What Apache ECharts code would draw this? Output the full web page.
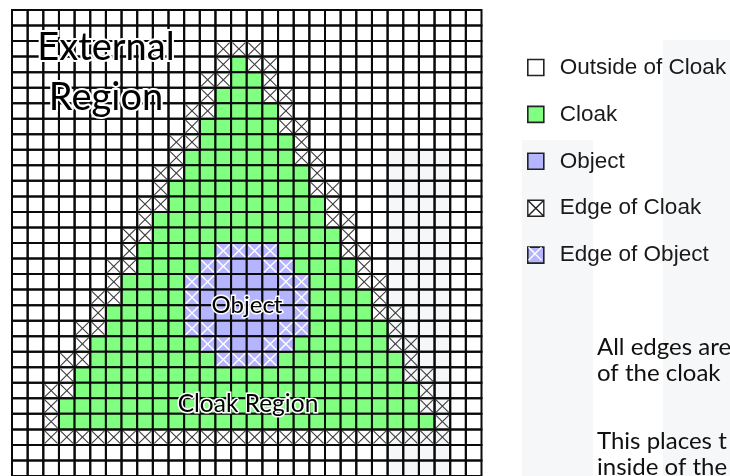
<!DOCTYPE html>
<html>
<head>
<meta charset="utf-8">
<script src="https://cdn.jsdelivr.net/npm/echarts@6/dist/echarts.min.js"></script>
<style>html,body{margin:0;padding:0;background:#fff}#chart{width:730px;height:476px}</style>
</head>
<body>
<div id="chart"></div>
<script>
// Column / row categories of the 30 x 30 cell grid
const colCategories = ['0','1','2','3','4','5','6','7','8','9','10','11','12','13','14','15','16','17','18','19','20','21','22','23','24','25','26','27','28','29'];
const rowCategories = ['0','1','2','3','4','5','6','7','8','9','10','11','12','13','14','15','16','17','18','19','20','21','22','23','24','25','26','27','28','29'];

// Cell type per row, run-length encoded (code + count).
// . outside, G cloak, B object, X edge of cloak, Y edge of object
const gridRows = [
  '.30',
  '.30',
  '.13 X3 .14',
  '.13 X1 G1 X2 .13',
  '.12 X2 G2 X1 .13',
  '.12 X1 G3 X2 .12',
  '.11 X2 G4 X1 .12',
  '.11 X1 G5 X2 .11',
  '.10 X2 G6 X1 .11',
  '.10 X1 G7 X2 .10',
  '.9 X2 G8 X1 .10',
  '.9 X1 G9 X2 .9',
  '.8 X2 G10 X1 .9',
  '.8 X1 G11 X2 .8',
  '.7 X2 G12 X1 .8',
  '.7 X1 G5 Y4 G4 X2 .7',
  '.6 X2 G4 Y2 B2 Y2 G4 X1 .7',
  '.6 X1 G4 Y2 B4 Y2 G3 X2 .6',
  '.5 X2 G4 Y1 B6 Y1 G4 X1 .6',
  '.5 X1 G5 Y1 B6 Y1 G4 X2 .5',
  '.4 X2 G5 Y2 B4 Y2 G5 X1 .5',
  '.4 X1 G7 Y2 B2 Y2 G6 X2 .4',
  '.3 X2 G8 Y4 G8 X1 .4',
  '.3 X1 G21 X2 .3',
  '.2 X2 G22 X1 .3',
  '.2 X1 G23 X2 .2',
  '.2 X1 G24 X1 .2',
  '.2 X26 .2',
  '.30',
  '.30'
];

const typeNames = ['Outside of Cloak', 'Cloak', 'Object', 'Edge of Cloak', 'Edge of Object'];
const typeCodes = ['.', 'G', 'B', 'X', 'Y'];

const textLabels = ['External', 'Region', 'Object', 'Cloak Region'];
const noteLines = ['All edges are', 'of the cloak', 'This places t', 'inside of the'];

// ---- build cell lists ----
const cellsByCode = {};
typeCodes.forEach(c => cellsByCode[c] = []);
gridRows.forEach((rowStr, r) => {
  let col = 0;
  rowStr.split(' ').forEach(tok => {
    const code = tok[0];
    const n = parseInt(tok.slice(1), 10);
    for (let k = 0; k < n; k++) { cellsByCode[code].push([col, r]); col++; }
  });
});

const fills = { '.': 'rgba(255,255,255,0)', 'G': '#80ff80', 'B': '#b4b4ff', 'X': 'rgba(255,255,255,0)', 'Y': '#b4b4ff' };
const crossColors = { 'X': '#3c3c3c', 'Y': '#ffffff' };

function makeRender(code) {
  return function (params, api) {
    const c = api.coord([api.value(0), api.value(1)]);
    const s = api.size([1, 1]);
    const x = c[0] - s[0] / 2, y = c[1] - s[1] / 2, w = s[0], h = s[1];
    const children = [{
      type: 'rect', shape: { x: x, y: y, width: w, height: h },
      style: { fill: fills[code], stroke: '#0a0a0a', lineWidth: 2 }
    }];
    if (crossColors[code]) {
      const lw = code === 'Y' ? 1.4 : 1.1;
      children.push({ type: 'line', shape: { x1: x + 1.5, y1: y + 1.5, x2: x + w - 1.5, y2: y + h - 1.5 }, style: { stroke: crossColors[code], lineWidth: lw } });
      children.push({ type: 'line', shape: { x1: x + w - 1.5, y1: y + 1.5, x2: x + 1.5, y2: y + h - 1.5 }, style: { stroke: crossColors[code], lineWidth: lw } });
    }
    return { type: 'group', children: children };
  };
}

const series = typeCodes.map((code, i) => ({
  type: 'custom',
  name: typeNames[i],
  renderItem: makeRender(code),
  data: cellsByCode[code],
  itemStyle: { color: code === 'G' ? '#80ff80' : (code === 'B' || code === 'Y') ? '#b4b4ff' : '#ffffff' },
  encode: { x: 0, y: 1 },
  animation: false,
  silent: true
}));

const glow = { stroke: '#fff', lineWidth: 4, shadowColor: '#fff', shadowBlur: 6 };
const labelFont = 'Lato, "Open Sans", sans-serif';

const chart = echarts.init(document.getElementById('chart'), null, { renderer: 'canvas' });
chart.setOption({
  animation: false,
  backgroundColor: '#ffffff',
  grid: { left: 12, top: 10, width: 469.5, height: 469.5, containLabel: false },
  xAxis: { type: 'category', data: colCategories, show: false },
  yAxis: { type: 'category', data: rowCategories, inverse: true, show: false },
  legend: {
    orient: 'vertical', left: 527, top: 56, padding: 0,
    itemWidth: 16, itemHeight: 16, itemGap: 23.9,
    selectedMode: false,
    textStyle: { fontFamily: '"Liberation Sans", Arial, sans-serif', fontSize: 22.5, color: '#1a1a1a', lineHeight: 22, padding: [0, 0, 0, 11] },
    data: [
      { name: typeNames[0], icon: 'rect', itemStyle: { color: '#ffffff', borderColor: '#222', borderWidth: 1.6 } },
      { name: typeNames[1], icon: 'rect', itemStyle: { color: '#80ff80', borderColor: '#222', borderWidth: 1.6 } },
      { name: typeNames[2], icon: 'rect', itemStyle: { color: '#b4b4ff', borderColor: '#222', borderWidth: 1.6 } },
      { name: typeNames[3], icon: 'path://M0,0L16,0L16,16L0,16Z M0,0L16,16 M16,0L0,16', itemStyle: { color: '#ffffff', borderColor: '#222', borderWidth: 1.4 } },
      { name: typeNames[4], icon: 'rect', itemStyle: { color: '#b4b4ff', borderColor: '#222', borderWidth: 1.6 } }
    ]
  },
  graphic: [
    // faint background watermark bars
    { type: 'rect', z: -10, shape: { x: 387, y: 150, width: 63, height: 326 }, style: { fill: '#f6f7f8' } },
    { type: 'rect', z: -10, shape: { x: 522, y: 140, width: 71, height: 336 }, style: { fill: '#f6f7f8' } },
    { type: 'rect', z: -10, shape: { x: 663, y: 40, width: 67, height: 436 }, style: { fill: '#f6f7f8' } },
    // white cross on the "Edge of Object" legend icon
    { type: 'line', z: 200, shape: { x1: 528.5, y1: 247.3, x2: 541.5, y2: 260.3 }, style: { stroke: '#fff', lineWidth: 1.4 } },
    { type: 'line', z: 200, shape: { x1: 541.5, y1: 247.3, x2: 528.5, y2: 260.3 }, style: { stroke: '#fff', lineWidth: 1.4 } },
    // region labels
    { type: 'text', z: 100, x: 106, y: 48, style: Object.assign({ text: textLabels[0], font: '38px ' + labelFont, fill: '#000', align: 'center', verticalAlign: 'middle' }, glow) },
    { type: 'text', z: 100, x: 106, y: 98, style: Object.assign({ text: textLabels[1], font: '38px ' + labelFont, fill: '#000', align: 'center', verticalAlign: 'middle' }, glow) },
    { type: 'text', z: 100, x: 247, y: 305, style: Object.assign({ text: textLabels[2], font: '24px ' + labelFont, fill: '#000', align: 'center', verticalAlign: 'middle' }, glow, { lineWidth: 3 }) },
    { type: 'text', z: 100, x: 248, y: 404, style: Object.assign({ text: textLabels[3], font: '24.5px ' + labelFont, fill: '#000', align: 'center', verticalAlign: 'middle' }, glow, { lineWidth: 3 }) },
    // note text (continues beyond the picture)
    { type: 'text', z: 100, x: 597, y: 347, style: { text: noteLines[0], font: '24px ' + labelFont, fill: '#111', align: 'left', verticalAlign: 'middle' } },
    { type: 'text', z: 100, x: 597, y: 373, style: { text: noteLines[1], font: '24px ' + labelFont, fill: '#111', align: 'left', verticalAlign: 'middle' } },
    { type: 'text', z: 100, x: 597, y: 441, style: { text: noteLines[2], font: '24px ' + labelFont, fill: '#111', align: 'left', verticalAlign: 'middle' } },
    { type: 'text', z: 100, x: 597, y: 467, style: { text: noteLines[3], font: '24px ' + labelFont, fill: '#111', align: 'left', verticalAlign: 'middle' } }
  ],
  series: series
});
</script>
</body>
</html>
